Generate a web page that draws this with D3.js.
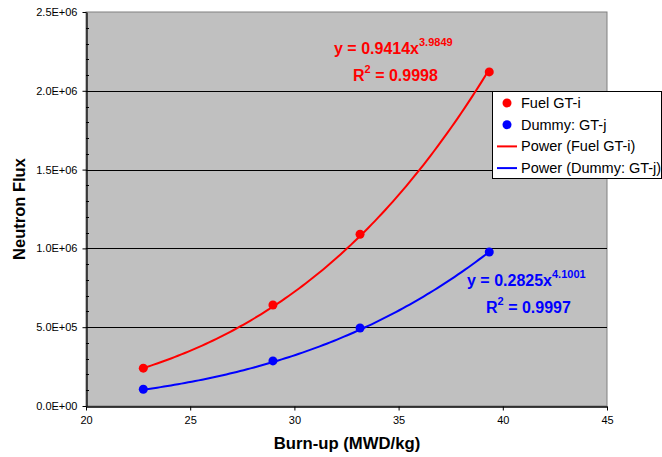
<!DOCTYPE html>
<html><head><meta charset="utf-8">
<script src="https://cdn.jsdelivr.net/npm/d3@7"></script>
<style>body{margin:0;background:#fff;} text{font-family:"Liberation Sans",Arial,sans-serif;}</style>
</head><body><svg id="c" width="662" height="457"></svg>
<script>
const fuelX = [22.75, 28.97, 33.15, 39.35];
const fuelY = [240000, 641000, 1090000, 2120000];
const dummyX = [22.75, 28.97, 33.15, 39.35];
const dummyY = [106000, 286000, 495000, 977000];
const fuelFit = {a: 0.9414, b: 3.9849, label: "y = 0.9414x", exp: "3.9849", r2: "0.9998"};
const dummyFit = {a: 0.2825, b: 4.1001, label: "y = 0.2825x", exp: "4.1001", r2: "0.9997"};
const xTicks = [20, 25, 30, 35, 40, 45];
const yTicks = [0, 500000, 1000000, 1500000, 2000000, 2500000];
const yTickLabels = ["0.0E+00", "5.0E+05", "1.0E+06", "1.5E+06", "2.0E+06", "2.5E+06"];
const legendLabels = ["Fuel GT-i", "Dummy: GT-j", "Power (Fuel GT-i)", "Power (Dummy: GT-j)"];

const svg = d3.select("#c");
const L = 86, R = 607, T = 12, B = 406;
const x = d3.scaleLinear().domain([20, 45]).range([L, R]);
const y = d3.scaleLinear().domain([0, 2500000]).range([B, T]);

svg.append("rect").attr("x", L).attr("y", T).attr("width", R - L).attr("height", B - T)
  .attr("fill", "#c0c0c0").attr("stroke", "#808080").attr("stroke-width", 1);

// gridlines
svg.append("g").selectAll("line").data(yTicks.slice(1, -1)).join("line")
  .attr("x1", L).attr("x2", R).attr("y1", d => Math.round(y(d)) + 0.5).attr("y2", d => Math.round(y(d)) + 0.5)
  .attr("stroke", "#000").attr("stroke-width", 1);

// y axis minor ticks (inside)
const minor = d3.range(100000, 2500000, 100000).filter(v => v % 500000 !== 0);
svg.append("g").selectAll("line").data(minor).join("line")
  .attr("x1", L).attr("x2", L + 3).attr("y1", d => Math.round(y(d)) + 0.5).attr("y2", d => Math.round(y(d)) + 0.5)
  .attr("stroke", "#000");

// y axis
const ya = svg.append("g").attr("transform", `translate(${L + 0.5},0)`)
  .call(d3.axisLeft(y).tickValues(yTicks).tickSize(4).tickSizeOuter(0).tickFormat((d, i) => yTickLabels[i]));
ya.select(".domain").attr("stroke", "#000").attr("stroke-width", 1.3);
ya.selectAll(".tick line").attr("stroke", "#000");
ya.selectAll(".tick text").attr("font-size", 11).attr("fill", "#000").attr("x", -9).attr("font-family", "Liberation Sans, Arial, sans-serif");

// x axis
const xa = svg.append("g").attr("transform", `translate(0,${B + 0.5})`)
  .call(d3.axisBottom(x).tickValues(xTicks).tickSize(4).tickSizeOuter(0).tickFormat(d3.format("d")));
xa.select(".domain").attr("stroke", "#000").attr("stroke-width", 1.3);
xa.selectAll(".tick line").attr("stroke", "#000");
xa.selectAll(".tick text").attr("font-size", 11).attr("fill", "#000").attr("y", 10).attr("font-family", "Liberation Sans, Arial, sans-serif");

// axis titles
svg.append("text").attr("x", 347).attr("y", 449).attr("text-anchor", "middle")
  .attr("font-size", 16.7).attr("font-weight", "bold").text("Burn-up (MWD/kg)");
svg.append("text").attr("transform", `translate(25,209) rotate(-90)`).attr("text-anchor", "middle")
  .attr("font-size", 16.5).attr("font-weight", "bold").text("Neutron Flux");

// trendlines
function curve(fit, xs) {
  const x0 = d3.min(xs), x1 = d3.max(xs);
  return d3.range(0, 101).map(i => { const xv = x0 + (x1 - x0) * i / 100; return [xv, fit.a * Math.pow(xv, fit.b)]; });
}
const line = d3.line().x(d => x(d[0])).y(d => y(d[1]));
svg.append("path").attr("d", line(curve(fuelFit, fuelX))).attr("fill", "none").attr("stroke", "#ff0000").attr("stroke-width", 2);
svg.append("path").attr("d", line(curve(dummyFit, dummyX))).attr("fill", "none").attr("stroke", "#0000ff").attr("stroke-width", 2);

// points
svg.append("g").selectAll("circle").data(d3.zip(fuelX, fuelY)).join("circle")
  .attr("cx", d => x(d[0])).attr("cy", d => y(d[1])).attr("r", 4.5).attr("fill", "#ff0000");
svg.append("g").selectAll("circle").data(d3.zip(dummyX, dummyY)).join("circle")
  .attr("cx", d => x(d[0])).attr("cy", d => y(d[1])).attr("r", 4.5).attr("fill", "#0000ff");

// equation labels
function eq(fit, color, x0, yb, rx, ryb) {
  const t = svg.append("text").attr("x", x0).attr("y", yb).attr("fill", color).attr("font-weight", "bold").attr("font-size", 16);
  t.append("tspan").text(fit.label);
  t.append("tspan").attr("font-size", 11).attr("dy", -8).text(fit.exp);
  const r = svg.append("text").attr("x", rx).attr("y", ryb).attr("fill", color).attr("font-weight", "bold").attr("font-size", 16);
  r.append("tspan").text("R");
  r.append("tspan").attr("font-size", 11).attr("dy", -8).text("2");
  r.append("tspan").attr("dy", 8).text(" = " + fit.r2);
}
eq(fuelFit, "#ff0000", 334, 54, 353, 81);
eq(dummyFit, "#0000ff", 467, 286, 486, 313);

// legend
const lg = svg.append("g");
lg.append("rect").attr("x", 492.5).attr("y", 91.5).attr("width", 169).attr("height", 87)
  .attr("fill", "#fff").attr("stroke", "#000").attr("stroke-width", 1);
const colors = ["#ff0000", "#0000ff", "#ff0000", "#0000ff"];
legendLabels.forEach((lab, i) => {
  const cy = 103 + i * 21.7;
  if (i < 2) lg.append("circle").attr("cx", 507).attr("cy", cy).attr("r", 4.5).attr("fill", colors[i]);
  else lg.append("line").attr("x1", 497).attr("x2", 517).attr("y1", cy).attr("y2", cy).attr("stroke", colors[i]).attr("stroke-width", 2);
  lg.append("text").attr("x", 521).attr("y", cy + 5).attr("font-size", 14.5).attr("fill", "#000").text(lab);
});
</script></body></html>
